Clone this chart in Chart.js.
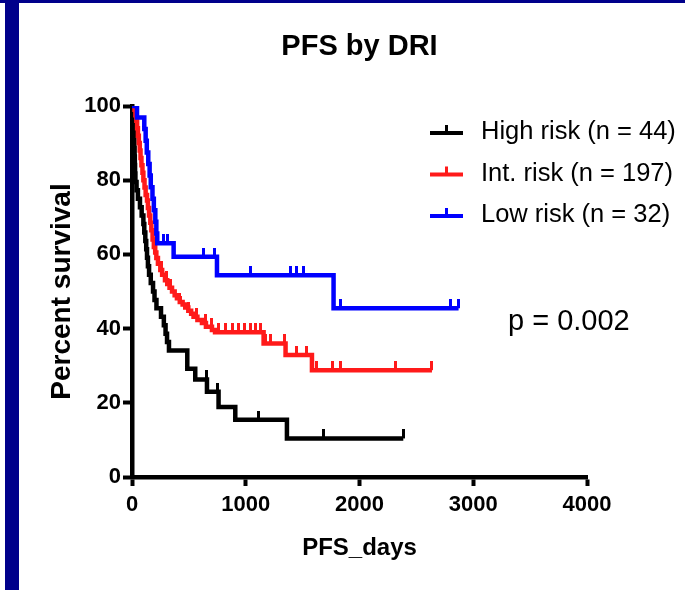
<!DOCTYPE html>
<html>
<head>
<meta charset="utf-8">
<title>PFS by DRI</title>
<script src="https://cdn.jsdelivr.net/npm/chart.js@4.4.1/dist/chart.umd.min.js"></script>
<style>
    html, body { margin: 0; padding: 0; background: #fff; }
    canvas { display: block; }
</style>
</head>
<body>
<canvas id="km-chart" width="685" height="590"></canvas>
<script>
// Kaplan-Meier curves, progression free survival by disease risk index
var chartTitle = 'PFS by DRI';
var xTitle = 'PFS_days';
var yTitle = 'Percent survival';
var pValueText = 'p = 0.002';

var groupNames = ['High risk (n = 44)', 'Int. risk (n = 197)', 'Low risk (n = 32)'];
var groupColours = ['#000000', '#ff1a1a', '#0000ff'];

var xTicks = [0, 1000, 2000, 3000, 4000];
var yTicks = [0, 20, 40, 60, 80, 100];

// event days and survival (%) right after each drop
var highDays = [8, 12, 15, 18, 21, 23, 25, 27, 30, 40, 52, 70, 85, 100, 108, 117, 125, 132, 140, 150, 165, 185, 198, 215, 255, 280, 295, 308, 325, 486, 556, 659, 761, 908, 1362];
var highSurv = [97.7, 95.5, 93.2, 90.9, 88.6, 86.4, 84.1, 81.8, 79.5, 77.3, 75.0, 72.7, 70.5, 68.2, 65.9, 63.6, 61.4, 59.1, 56.8, 54.5, 52.3, 50.0, 47.7, 45.5, 43.2, 40.9, 38.6, 36.4, 34.1, 29.2, 26.3, 23.0, 18.9, 15.4, 10.4];
var highCensored = [655, 755, 1113, 1684, 2385];

var intDays = [22, 30, 38, 45, 52, 60, 68, 75, 83, 92, 100, 110, 120, 132, 140, 150, 161, 170, 181, 192, 204, 214, 228, 249, 265, 290, 310, 330, 352, 375, 395, 420, 445, 468, 495, 520, 541, 575, 615, 650, 703, 730, 1157, 1350, 1582];
var intSurv = [99, 97.5, 96, 94, 92, 90, 88, 86, 84, 82, 80, 78, 76, 74.5, 72.5, 70.5, 68.5, 66.5, 64, 62, 60.5, 59, 57.5, 55.8, 54.5, 53, 52, 51, 50, 49, 48.2, 47.2, 46.5, 45.7, 44.8, 44, 43.2, 42.3, 41.5, 40.5, 39.6, 39, 36, 32.9, 28.8];
var intCensored = [260, 300, 340, 420, 500, 571, 644, 700, 760, 820, 880, 940, 990, 1040, 1090, 1130, 1172, 1216, 1345, 1450, 1538, 1626, 1767, 1831, 2314, 2637];

var lowDays = [44, 108, 120, 130, 143, 155, 165, 180, 192, 205, 214, 222, 366, 747, 1772];
var lowSurv = [96.9, 93.8, 90.6, 87.5, 84.4, 81.3, 78.1, 75, 71.9, 68.8, 65.6, 63, 59.4, 54.4, 45.5];
var lowCensored = [278, 308, 630, 726, 1040, 1391, 1450, 1508, 1831, 2798, 2871];

var fontFamily = "'Liberation Sans', Arial, Helvetica, sans-serif";

function survivalAt(days, surv, t) {
    var s = 100;
    for (var i = 0; i < days.length; i++) {
        if (days[i] <= t) s = surv[i];
    }
    return s;
}

function curvePoints(days, surv, censored) {
    var pts = [{x: 0, y: 100}];
    for (var i = 0; i < days.length; i++) {
        pts.push({x: days[i], y: surv[i]});
    }
    var last = Math.max(days[days.length - 1], censored[censored.length - 1]);
    pts.push({x: last, y: survivalAt(days, surv, last)});
    return pts;
}

function censorPoints(days, surv, censored) {
    return censored.map(function (t) {
        return {x: t, y: survivalAt(days, surv, t)};
    });
}

// small vertical tick sitting on top of the curve
function censorMark(colour) {
    var c = document.createElement('canvas');
    c.width = 3;
    c.height = 18;
    var g = c.getContext('2d');
    g.fillStyle = colour;
    g.fillRect(0, 0, 3, 9);
    return c;
}

var groups = [
    {days: lowDays, surv: lowSurv, cens: lowCensored, idx: 2},
    {days: intDays, surv: intSurv, cens: intCensored, idx: 1},
    {days: highDays, surv: highSurv, cens: highCensored, idx: 0}
];

var datasets = [];
groups.forEach(function (g) {
    var colour = groupColours[g.idx];
    datasets.push({
        label: groupNames[g.idx],
        data: curvePoints(g.days, g.surv, g.cens),
        borderColor: colour,
        backgroundColor: colour,
        borderWidth: 4.5,
        stepped: 'before',
        pointRadius: 0,
        fill: false
    });
    datasets.push({
        label: groupNames[g.idx] + ' censored',
        data: censorPoints(g.days, g.surv, g.cens),
        showLine: false,
        pointStyle: censorMark(colour),
        pointRadius: 5
    });
});

var decorations = {
    id: 'decorations',
    beforeDraw: function (chart) {
        var ctx = chart.ctx;
        ctx.save();
        ctx.fillStyle = '#00008b';
        ctx.fillRect(0, 0, chart.width, 3);
        ctx.fillRect(5, 0, 14, chart.height);
        ctx.restore();
    },
    afterDraw: function (chart) {
        var ctx = chart.ctx;
        var area = chart.chartArea;
        ctx.save();
        ctx.fillStyle = '#000';
        ctx.textBaseline = 'middle';

        ctx.font = 'bold 29px ' + fontFamily;
        ctx.textAlign = 'center';
        ctx.fillText(chartTitle, (area.left + area.right) / 2, 47);

        // legend
        ctx.font = '25.5px ' + fontFamily;
        ctx.textAlign = 'left';
        for (var i = 0; i < groupNames.length; i++) {
            var y = 133 + i * 41.5;
            ctx.strokeStyle = groupColours[i];
            ctx.lineWidth = 4;
            ctx.beginPath();
            ctx.moveTo(430, y);
            ctx.lineTo(463, y);
            ctx.stroke();
            ctx.fillStyle = groupColours[i];
            ctx.fillRect(445, y - 8, 3, 8);
            ctx.fillStyle = '#000';
            ctx.fillText(groupNames[i], 481, y - 1);
        }

        ctx.font = '29px ' + fontFamily;
        ctx.fillText(pValueText, 508, 322);
        ctx.restore();
    }
};

var el = document.getElementById('km-chart');
var chart = new Chart(el, {
    type: 'line',
    data: {datasets: datasets},
    options: {
        responsive: false,
        animation: false,
        devicePixelRatio: 1,
        layout: {
            padding: {top: 106, right: 98, left: 0, bottom: 0}
        },
        plugins: {
            legend: {display: false},
            tooltip: {enabled: false}
        },
        scales: {
            x: {
                type: 'linear',
                min: 0,
                max: 4000,
                afterBuildTicks: function (scale) {
                    scale.ticks = xTicks.map(function (v) { return {value: v}; });
                },
                afterFit: function (scale) {
                    scale.height = 113;
                },
                border: {color: '#000', width: 4.5},
                grid: {drawOnChartArea: false, color: '#000', tickLength: 9, tickWidth: 4},
                ticks: {
                    color: '#000',
                    padding: 6,
                    maxRotation: 0,
                    callback: function (value) { return String(value); },
                    font: {family: fontFamily, size: 22, weight: 'bold'}
                },
                title: {
                    display: true,
                    text: xTitle,
                    color: '#000',
                    font: {family: fontFamily, size: 24, weight: 'bold'},
                    padding: {top: 0, bottom: 27}
                }
            },
            y: {
                min: 0,
                max: 100,
                afterBuildTicks: function (scale) {
                    scale.ticks = yTicks.map(function (v) { return {value: v}; });
                },
                afterFit: function (scale) {
                    scale.width = 132;
                },
                border: {color: '#000', width: 4.5},
                grid: {drawOnChartArea: false, color: '#000', tickLength: 9, tickWidth: 4},
                ticks: {
                    color: '#000',
                    padding: 2,
                    callback: function (value) { return String(value); },
                    font: {family: fontFamily, size: 22, weight: 'bold'}
                },
                title: {
                    display: true,
                    text: yTitle,
                    color: '#000',
                    font: {family: fontFamily, size: 28, weight: 'bold'},
                    padding: {top: 45, bottom: 0}
                }
            }
        }
    },
    plugins: [decorations]
});
</script>
</body>
</html>
